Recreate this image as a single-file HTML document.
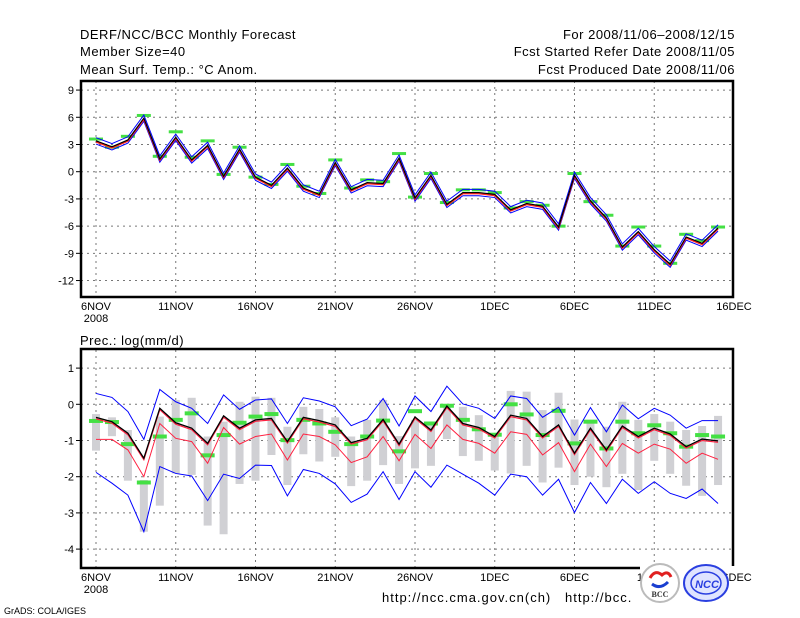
<!DOCTYPE html>
<html><head><meta charset="utf-8"><style>
body{margin:0;background:#fff;width:800px;height:618px;overflow:hidden}
svg{display:block;font-family:"Liberation Sans",sans-serif}
</style></head><body>
<svg id="c" width="800" height="618" viewBox="0 0 800 618">
<g font-size="13" fill="#000" letter-spacing="0.5">
<text x="80" y="39">DERF/NCC/BCC Monthly Forecast</text>
<text x="80" y="56">Member Size=40</text>
<text x="80" y="74">Mean Surf. Temp.: °C Anom.</text>
<text x="735" y="39" text-anchor="end">For 2008/11/06–2008/12/15</text>
<text x="735" y="56" text-anchor="end">Fcst Started Refer Date 2008/11/05</text>
<text x="735" y="74" text-anchor="end">Fcst Produced Date 2008/11/06</text>
<text x="80" y="345">Prec.: log(mm/d)</text>
<text x="382" y="602" letter-spacing="1">http://ncc.cma.gov.cn(ch)</text>
<text x="565" y="602" letter-spacing="1">http://bcc.</text>
<text x="4" y="614" font-size="9" letter-spacing="0">GrADS: COLA/IGES</text>
</g>
<g id="top"></g>
<g id="bot"></g>
<g>
<circle cx="660" cy="583" r="19" fill="#fff" stroke="#bbb" stroke-width="2"/>
<path d="M650 578 q5 -9 12 -3 q6 -5 9 2" fill="none" stroke="#e02020" stroke-width="3"/>
<path d="M652 584 q8 6 16 -2" fill="none" stroke="#1a3fd0" stroke-width="3"/>
<text x="660" y="597" font-size="8" font-weight="bold" text-anchor="middle" fill="#333" font-family="Liberation Serif,serif">BCC</text>
<ellipse cx="706" cy="583" rx="22" ry="18" fill="#dfe4ff" stroke="#2a3fe0" stroke-width="2"/>
<ellipse cx="706" cy="583" rx="15" ry="11" fill="none" stroke="#2a3fe0" stroke-width="1.5"/>
<text x="707" y="588" font-size="11" font-weight="bold" font-style="italic" text-anchor="middle" fill="#2a3fe0">NCC</text>
</g>
</svg>
<script>
// ---- temperature panel data (days 0..39 from 6NOV) ----
const tMean=[3.4,2.75,3.5,5.9,1.4,3.8,1.3,2.9,-0.5,2.5,-0.6,-1.5,0.4,-1.8,-2.5,1.0,-2.0,-1.2,-1.3,1.5,-2.9,-0.4,-3.6,-2.3,-2.3,-2.5,-4.2,-3.5,-3.8,-6.1,-0.4,-3.2,-5.1,-8.3,-6.6,-8.6,-10.2,-7.2,-7.9,-6.2];
const tObs=[3.6,2.7,3.9,6.2,1.7,4.4,1.6,3.4,-0.3,2.7,-0.6,-1.4,0.8,-1.6,-2.4,1.3,-1.8,-0.9,-1.1,2.0,-2.8,-0.2,-3.4,-2.0,-2.0,-2.3,-4.0,-3.3,-3.7,-6.0,-0.2,-3.3,-4.8,-8.2,-6.1,-8.2,-10.1,-6.9,-7.6,-6.1];
const tSpread=0.35;
const tTicks=[9,6,3,0,-3,-6,-9,-12];
// ---- precipitation panel data ----
const pMean=[-0.36,-0.48,-0.8,-1.49,-0.11,-0.51,-0.66,-1.08,-0.32,-0.66,-0.43,-0.39,-1.03,-0.36,-0.45,-0.57,-1.06,-0.94,-0.42,-1.1,-0.35,-0.71,-0.05,-0.53,-0.64,-0.89,-0.3,-0.39,-0.89,-0.57,-1.35,-0.66,-1.26,-0.6,-0.89,-0.66,-0.82,-1.17,-0.96,-1.01];
const pLow=[-0.97,-0.97,-1.26,-2.0,-0.53,-0.94,-1.03,-1.63,-0.64,-1.1,-0.89,-0.82,-1.54,-0.82,-0.89,-1.12,-1.61,-1.45,-0.89,-1.56,-0.83,-1.22,-0.57,-0.97,-1.08,-1.35,-0.76,-0.83,-1.4,-1.06,-1.86,-1.1,-1.72,-1.08,-1.35,-1.1,-1.24,-1.63,-1.35,-1.52];
const pUpper=[0.3,0.19,-0.2,-0.97,0.41,0.07,-0.11,-0.53,0.26,-0.14,0.12,0.15,-0.53,0.18,0.09,-0.07,-0.59,-0.41,0.16,-0.6,0.23,-0.2,0.5,0.01,-0.11,-0.39,0.23,0.16,-0.36,-0.08,-0.85,-0.09,-0.76,-0.02,-0.4,-0.11,-0.3,-0.66,-0.45,-0.45];
const pLower=[-1.88,-2.18,-2.51,-3.52,-1.72,-1.91,-1.98,-2.66,-1.93,-2.05,-1.68,-1.69,-2.53,-1.8,-1.91,-2.2,-2.71,-2.48,-1.86,-2.63,-1.86,-2.29,-1.68,-1.93,-2.18,-2.51,-1.93,-2.0,-2.51,-2.07,-2.99,-2.16,-2.74,-2.07,-2.46,-2.14,-2.46,-2.6,-2.34,-2.74];
const pBarTop=[-0.27,-0.36,-0.71,-2.09,-0.34,0.12,0.18,-0.89,-0.48,0.07,0.21,0.18,-0.62,-0.07,-0.13,-0.36,-0.89,-0.43,0.12,-0.88,-0.43,-0.57,-0.02,-0.07,-0.3,-0.8,0.37,0.35,-0.16,0.32,-0.42,-0.43,-0.62,0.07,-0.43,-0.27,-0.48,-0.71,-0.6,-0.32];
const pBarBot=[-1.28,-0.88,-2.11,-3.52,-2.8,-1.91,-1.95,-3.35,-3.59,-2.2,-2.11,-1.4,-2.23,-1.38,-1.58,-1.45,-2.26,-2.11,-1.68,-2.2,-1.77,-1.7,-0.96,-1.43,-1.56,-1.83,-1.91,-1.7,-2.16,-1.75,-2.23,-2.0,-2.29,-1.92,-2.37,-1.56,-1.92,-2.25,-2.53,-2.23];
const pObs=[-0.46,-0.49,-1.1,-2.16,-0.89,-0.43,-0.25,-1.41,-0.85,-0.51,-0.34,-0.27,-0.99,-0.43,-0.53,-0.76,-1.1,-0.89,-0.45,-1.3,-0.19,-0.53,-0.04,-0.43,-0.69,-0.84,0.0,-0.28,-0.85,-0.18,-1.08,-0.48,-1.22,-0.48,-0.8,-0.58,-0.8,-1.17,-0.85,-0.89];
const pTicks=[1,0,-1,-2,-3,-4];
const xTickDays=[0,5,10,15,20,25,30,35,40];
const xTickLabels=["6NOV","11NOV","16NOV","21NOV","26NOV","1DEC","6DEC","11DEC","16DEC"];

const NS="http://www.w3.org/2000/svg";
const X=d=>96+15.95*d;
function mk(p,tag,at){const e=document.createElementNS(NS,tag);for(const k in at)e.setAttribute(k,at[k]);p.appendChild(e);return e;}
function poly(g,vals,Y,col,w,name){
  const e=mk(g,'polyline',{points:vals.map((v,i)=>X(i)+','+Y(v)).join(' '),fill:'none',stroke:col,'stroke-width':w});
  
  
}
function frame(g,top,bot,Y,ticks,name){
  for(const t of ticks){
    const gl=mk(g,'line',{x1:81,x2:733,y1:Y(t),y2:Y(t),stroke:'#777','stroke-dasharray':'2,4'});
    
    
    mk(g,'line',{x1:76,x2:81,y1:Y(t),y2:Y(t),stroke:'#000'});
    const tl=mk(g,'text',{x:74,y:Y(t)+4,'text-anchor':'end','font-size':'11'});tl.textContent=t;
    
    
  }
  xTickDays.forEach((d,i)=>{
    if(d<40){const gl=mk(g,'line',{x1:X(d),x2:X(d),y1:top,y2:bot,stroke:'#777','stroke-dasharray':'2,4'});
      
      }
    const tl=mk(g,'text',{x:X(d),y:bot+13,'text-anchor':'middle','font-size':'11'});tl.textContent=xTickLabels[i];
    
    
  });
  const yr=mk(g,'text',{x:X(0),y:bot+25,'text-anchor':'middle','font-size':'11'});yr.textContent='2008';
  
  
}
// top
const gt=document.getElementById('top');
const Yt=v=>171.7-9.07*v;
frame(gt,81,297,Yt,tTicks,'top');
tObs.forEach((v,i)=>{const r=mk(gt,'rect',{x:X(i)-7,y:Yt(v)-1.5,width:14,height:3,fill:'#44e044'});
  
  });
poly(gt,tMean.map(v=>v+tSpread),Yt,'#0000ff',1,'upper-bound-line');
poly(gt,tMean.map(v=>v-tSpread),Yt,'#0000ff',1,'lower-bound-line');
poly(gt,tMean.map(v=>v-0.12),Yt,'#ff2020',1.5,'median-line');
poly(gt,tMean,Yt,'#000',1.2,'ensemble-mean-line');
mk(gt,'rect',{x:81,y:81,width:652,height:216,fill:'none',stroke:'#000','stroke-width':2.5});
// bottom
const gb=document.getElementById('bot');
const Yb=v=>404.3-36.2*v;
frame(gb,350,568,Yb,pTicks,'bot');
pBarTop.forEach((v,i)=>{const r=mk(gb,'rect',{x:X(i)-4,y:Yb(v),width:8,height:Yb(pBarBot[i])-Yb(v),fill:'#d0d0d4'});
  
  });
pObs.forEach((v,i)=>{const r=mk(gb,'rect',{x:X(i)-7,y:Yb(v)-2,width:14,height:4,fill:'#44e044'});
  
  });
poly(gb,pUpper,Yb,'#0000ff',1,'upper-bound-line');
poly(gb,pLower,Yb,'#0000ff',1,'lower-bound-line');
poly(gb,pLow,Yb,'#ff2040',1,'lower-percentile-line');
poly(gb,pMean.map(v=>v-0.04),Yb,'#ff2040',1.2,'median-line');
poly(gb,pMean,Yb,'#000',1.3,'ensemble-mean-line');
mk(gb,'path',{d:'M640 568 H81 V349 H733 V566',fill:'none',stroke:'#000','stroke-width':2.5});
</script>
</body></html>
